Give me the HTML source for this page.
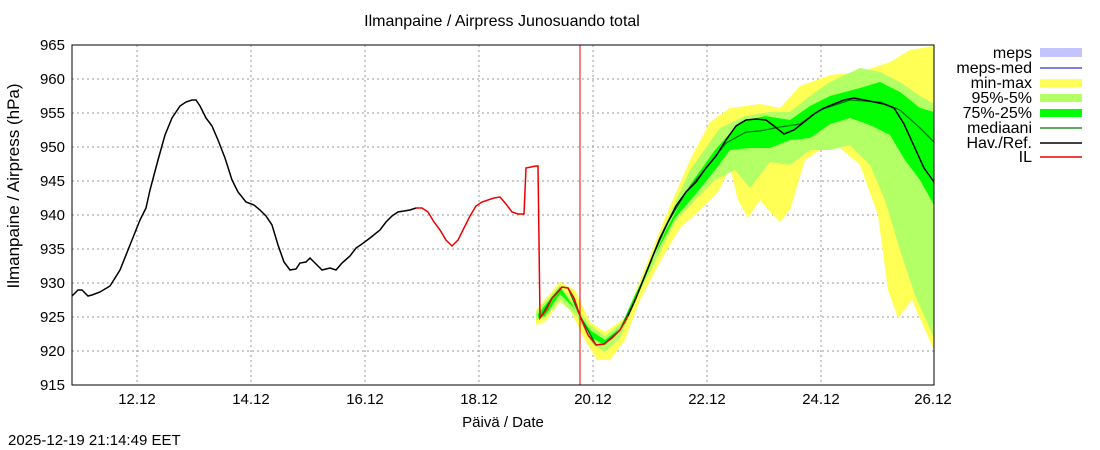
<!DOCTYPE html>
<html><head><meta charset="utf-8"><style>
body{margin:0;background:#fff}
svg{display:block;font-family:"Liberation Sans",sans-serif}
</style></head><body>
<svg width="1100" height="450" viewBox="0 0 1100 450">
<rect width="1100" height="450" fill="#fff"/>
<text x="502" y="26" font-size="16" text-anchor="middle">Ilmanpaine / Airpress Junosuando total</text>
<g stroke="#999" stroke-width="1" stroke-dasharray="2,3">
<line x1="72" x2="934" y1="79" y2="79"/><line x1="72" x2="934" y1="113" y2="113"/><line x1="72" x2="934" y1="147" y2="147"/><line x1="72" x2="934" y1="181" y2="181"/><line x1="72" x2="934" y1="215" y2="215"/><line x1="72" x2="934" y1="249" y2="249"/><line x1="72" x2="934" y1="283" y2="283"/><line x1="72" x2="934" y1="317" y2="317"/><line x1="72" x2="934" y1="351" y2="351"/>
<line y1="45" y2="385" x1="137" x2="137"/><line y1="45" y2="385" x1="251" x2="251"/><line y1="45" y2="385" x1="365" x2="365"/><line y1="45" y2="385" x1="479" x2="479"/><line y1="45" y2="385" x1="593" x2="593"/><line y1="45" y2="385" x1="707" x2="707"/><line y1="45" y2="385" x1="821" x2="821"/>
</g>
<polygon fill="#ffff55" points="536,310 560,282 575,290 590,322 605,332 625,318 645,268 665,218 690,160 710,122 730,108 760,104 780,108 800,86 830,75 860,72 890,62 910,50 934,46 934,350 925,330 912,300 898,318 888,290 878,215 860,165 840,148 820,150 805,160 790,210 780,222 770,212 760,200 748,218 738,200 730,168 718,192 700,210 680,228 660,262 640,300 625,340 610,360 597,360 585,340 570,310 560,302 545,322 536,325"/>
<polygon fill="#b3ff66" points="536,312 560,285 590,325 605,336 625,320 645,272 665,225 690,170 720,128 745,116 770,112 790,112 810,96 830,82 860,68 880,72 900,82 920,96 934,104 934,338 915,295 900,250 885,200 870,165 850,145 830,150 810,150 790,165 770,162 760,175 750,188 735,170 715,180 695,200 675,222 655,262 635,300 620,338 605,352 592,344 578,318 560,300 545,318 536,320"/>
<polygon fill="#00ff00" points="538,314 560,287 590,330 605,340 625,324 645,278 665,232 690,185 715,150 740,122 765,116 790,120 810,106 830,96 860,88 880,82 900,92 920,108 934,112 934,205 920,180 905,160 890,135 870,125 850,118 830,124 810,138 790,140 770,148 750,148 730,150 715,170 695,195 675,218 655,255 635,295 620,328 605,345 592,338 578,312 560,294 545,316 538,318"/>
<polyline fill="none" stroke="#007700" stroke-width="1.3" points="540,318 552,298 562,287 568,288 580,316 596,345 604,344 620,330 636,298 652,258 668,222 686,192 706,168 726,143 746,132 760,131 780,127 800,124 820,110 850,100 880,102 900,110 920,128 934,142"/>
<polyline fill="none" stroke="#ee0000" stroke-width="1.5" points="416,208 422,208 428,212 434,222 440,230 446,240 452,246 458,240 464,228 470,216 476,206 482,202 488,200 494,198 500,197 506,204 512,212 518,214 524,214 526,168 536,166 538,166 540,318 546,310 552,298 558,292 562,287 568,288 574,298 580,316 588,335 596,345 604,344 612,338 620,330 628,316"/>
<polyline fill="none" stroke="#000" stroke-width="1.5" points="72,296 78,290 82,290 88,296 92,295 100,292 110,286 120,270 128,250 140,220 146,208 150,190 158,160 165,135 172,118 180,106 186,102 192,100 196,100 200,106 206,118 212,126 218,140 225,158 232,180 238,192 246,202 254,205 260,210 266,216 272,225 278,245 284,262 290,270 296,269 300,263 306,262 310,258 316,264 322,270 330,268 336,270 342,263 350,256 356,248 362,244 370,238 380,230 386,222 392,216 398,212 404,211 410,210 416,208"/>
<polyline fill="none" stroke="#000" stroke-width="1.5" points="628,316 636,298 644,278 652,258 660,238 668,222 676,206 686,192 696,182 706,168 716,156 726,140 736,126 746,120 756,119 766,120 774,126 784,134 794,130 804,122 814,114 824,108 834,104 844,100 854,98 864,100 874,102 884,104 894,108 904,124 914,146 924,168 934,182"/>
<line x1="580" x2="580" y1="45" y2="385" stroke="#ee0000" stroke-width="1"/>
<rect x="72" y="45" width="862" height="340" fill="none" stroke="#000" stroke-width="1"/>
<g font-size="15" text-anchor="end">
<text x="65" y="50">965</text><text x="65" y="84">960</text><text x="65" y="118">955</text><text x="65" y="152">950</text><text x="65" y="186">945</text><text x="65" y="220">940</text><text x="65" y="254">935</text><text x="65" y="288">930</text><text x="65" y="322">925</text><text x="65" y="356">920</text><text x="65" y="390">915</text>
</g>
<g font-size="15" text-anchor="middle">
<text x="137" y="404">12.12</text><text x="251" y="404">14.12</text><text x="365" y="404">16.12</text><text x="479" y="404">18.12</text><text x="593" y="404">20.12</text><text x="707" y="404">22.12</text><text x="821" y="404">24.12</text><text x="933" y="404">26.12</text>
<text x="503" y="427">Päivä / Date</text>
</g>
<text transform="translate(19,186) rotate(-90)" font-size="17" text-anchor="middle">Ilmanpaine / Airpress (hPa)</text>
<text x="8" y="445" font-size="15">2025-12-19 21:14:49 EET</text>
<g font-size="16" text-anchor="end">
<text x="1032" y="58">meps</text><text x="1032" y="73">meps-med</text><text x="1032" y="88">min-max</text><text x="1032" y="103">95%-5%</text><text x="1032" y="118">75%-25%</text><text x="1032" y="133">mediaani</text><text x="1032" y="148">Hav./Ref.</text><text x="1032" y="162">IL</text>
</g>
<rect x="1040" y="48" width="42" height="9" fill="#c4c4ff"/>
<line x1="1040" x2="1082" y1="68" y2="68" stroke="#3333cc" stroke-width="1.3"/>
<rect x="1040" y="79" width="42" height="8" fill="#ffff55"/>
<rect x="1040" y="94" width="42" height="8" fill="#b3ff66"/>
<rect x="1040" y="109" width="42" height="8" fill="#00ff00"/>
<line x1="1040" x2="1082" y1="128" y2="128" stroke="#007700" stroke-width="1.3"/>
<line x1="1040" x2="1082" y1="143" y2="143" stroke="#000" stroke-width="1.5"/>
<line x1="1040" x2="1082" y1="157" y2="157" stroke="#ee0000" stroke-width="1.5"/>
</svg>
</body></html>
